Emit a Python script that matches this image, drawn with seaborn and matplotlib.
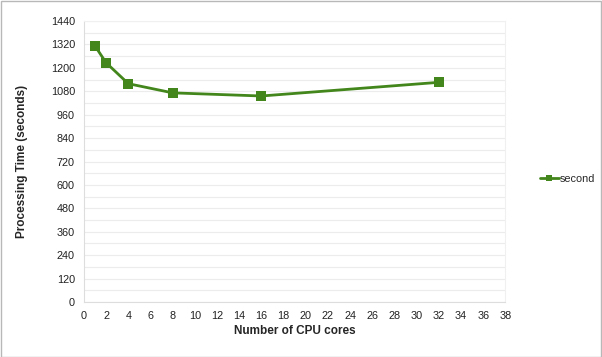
import matplotlib
matplotlib.use("Agg")
import matplotlib.pyplot as plt
import numpy as np
import pandas as pd
import seaborn as sns

# data
cores = [1, 2, 4, 8, 16, 32]
seconds = [1312, 1226, 1119, 1072, 1056, 1126]
series_name = "second"

df = pd.DataFrame({"cores": cores, "time": seconds, "series": series_name})

sns.set_theme(style="white")
plt.rcParams["font.family"] = ["Liberation Sans", "DejaVu Sans"]

green = "#43861c"

fig = plt.figure(figsize=(6.02, 3.57), dpi=100)
ax = fig.add_axes([0.1395, 0.154, 0.70, 0.787])

sns.lineplot(data=df, x="cores", y="time", hue="series", palette=[green],
             marker="s", markersize=7, markeredgewidth=0, linewidth=2,
             ax=ax)

ax.set_xlim(0, 38)
ax.set_ylim(0, 1440)
ax.set_xticks(np.arange(0, 39, 2))
ax.set_yticks(np.arange(0, 1441, 120))
ax.set_yticks(np.arange(60, 1440, 120), minor=True)
ax.grid(axis="y", which="both", color="#ececec", linewidth=0.8)
ax.set_axisbelow(True)
ax.tick_params(axis="both", which="major", labelsize=7.8, colors="#222222",
               length=3, color="#dddddd", width=0.6)
ax.tick_params(axis="y", which="minor", length=0)

for side in ["top", "right"]:
    ax.spines[side].set_color("#f0f0f0")
    ax.spines[side].set_linewidth(0.8)
for side in ["left", "bottom"]:
    ax.spines[side].set_color("#dddddd")
    ax.spines[side].set_linewidth(0.8)

ax.set_xlabel("Number of CPU cores", fontsize=8.5, fontweight="bold", labelpad=3)
ax.set_ylabel("Processing Time (seconds)", fontsize=8.5, fontweight="bold", labelpad=16)

handles, labels = ax.get_legend_handles_labels()
ax.legend_.remove()
fig.legend(handles, labels, loc="center left",
           bbox_to_anchor=(0.89, 0.50), bbox_transform=fig.transFigure,
           frameon=False, fontsize=7.8, handlelength=1.7,
           handletextpad=0.1, markerscale=0.7, borderaxespad=0)

# outer figure border
fig.patches.append(plt.Rectangle((0.001, 0.001), 0.997, 0.997,
                                 transform=fig.transFigure, fill=False,
                                 edgecolor="#b8b8b8", linewidth=1))

fig.savefig("out.png", dpi=100)
